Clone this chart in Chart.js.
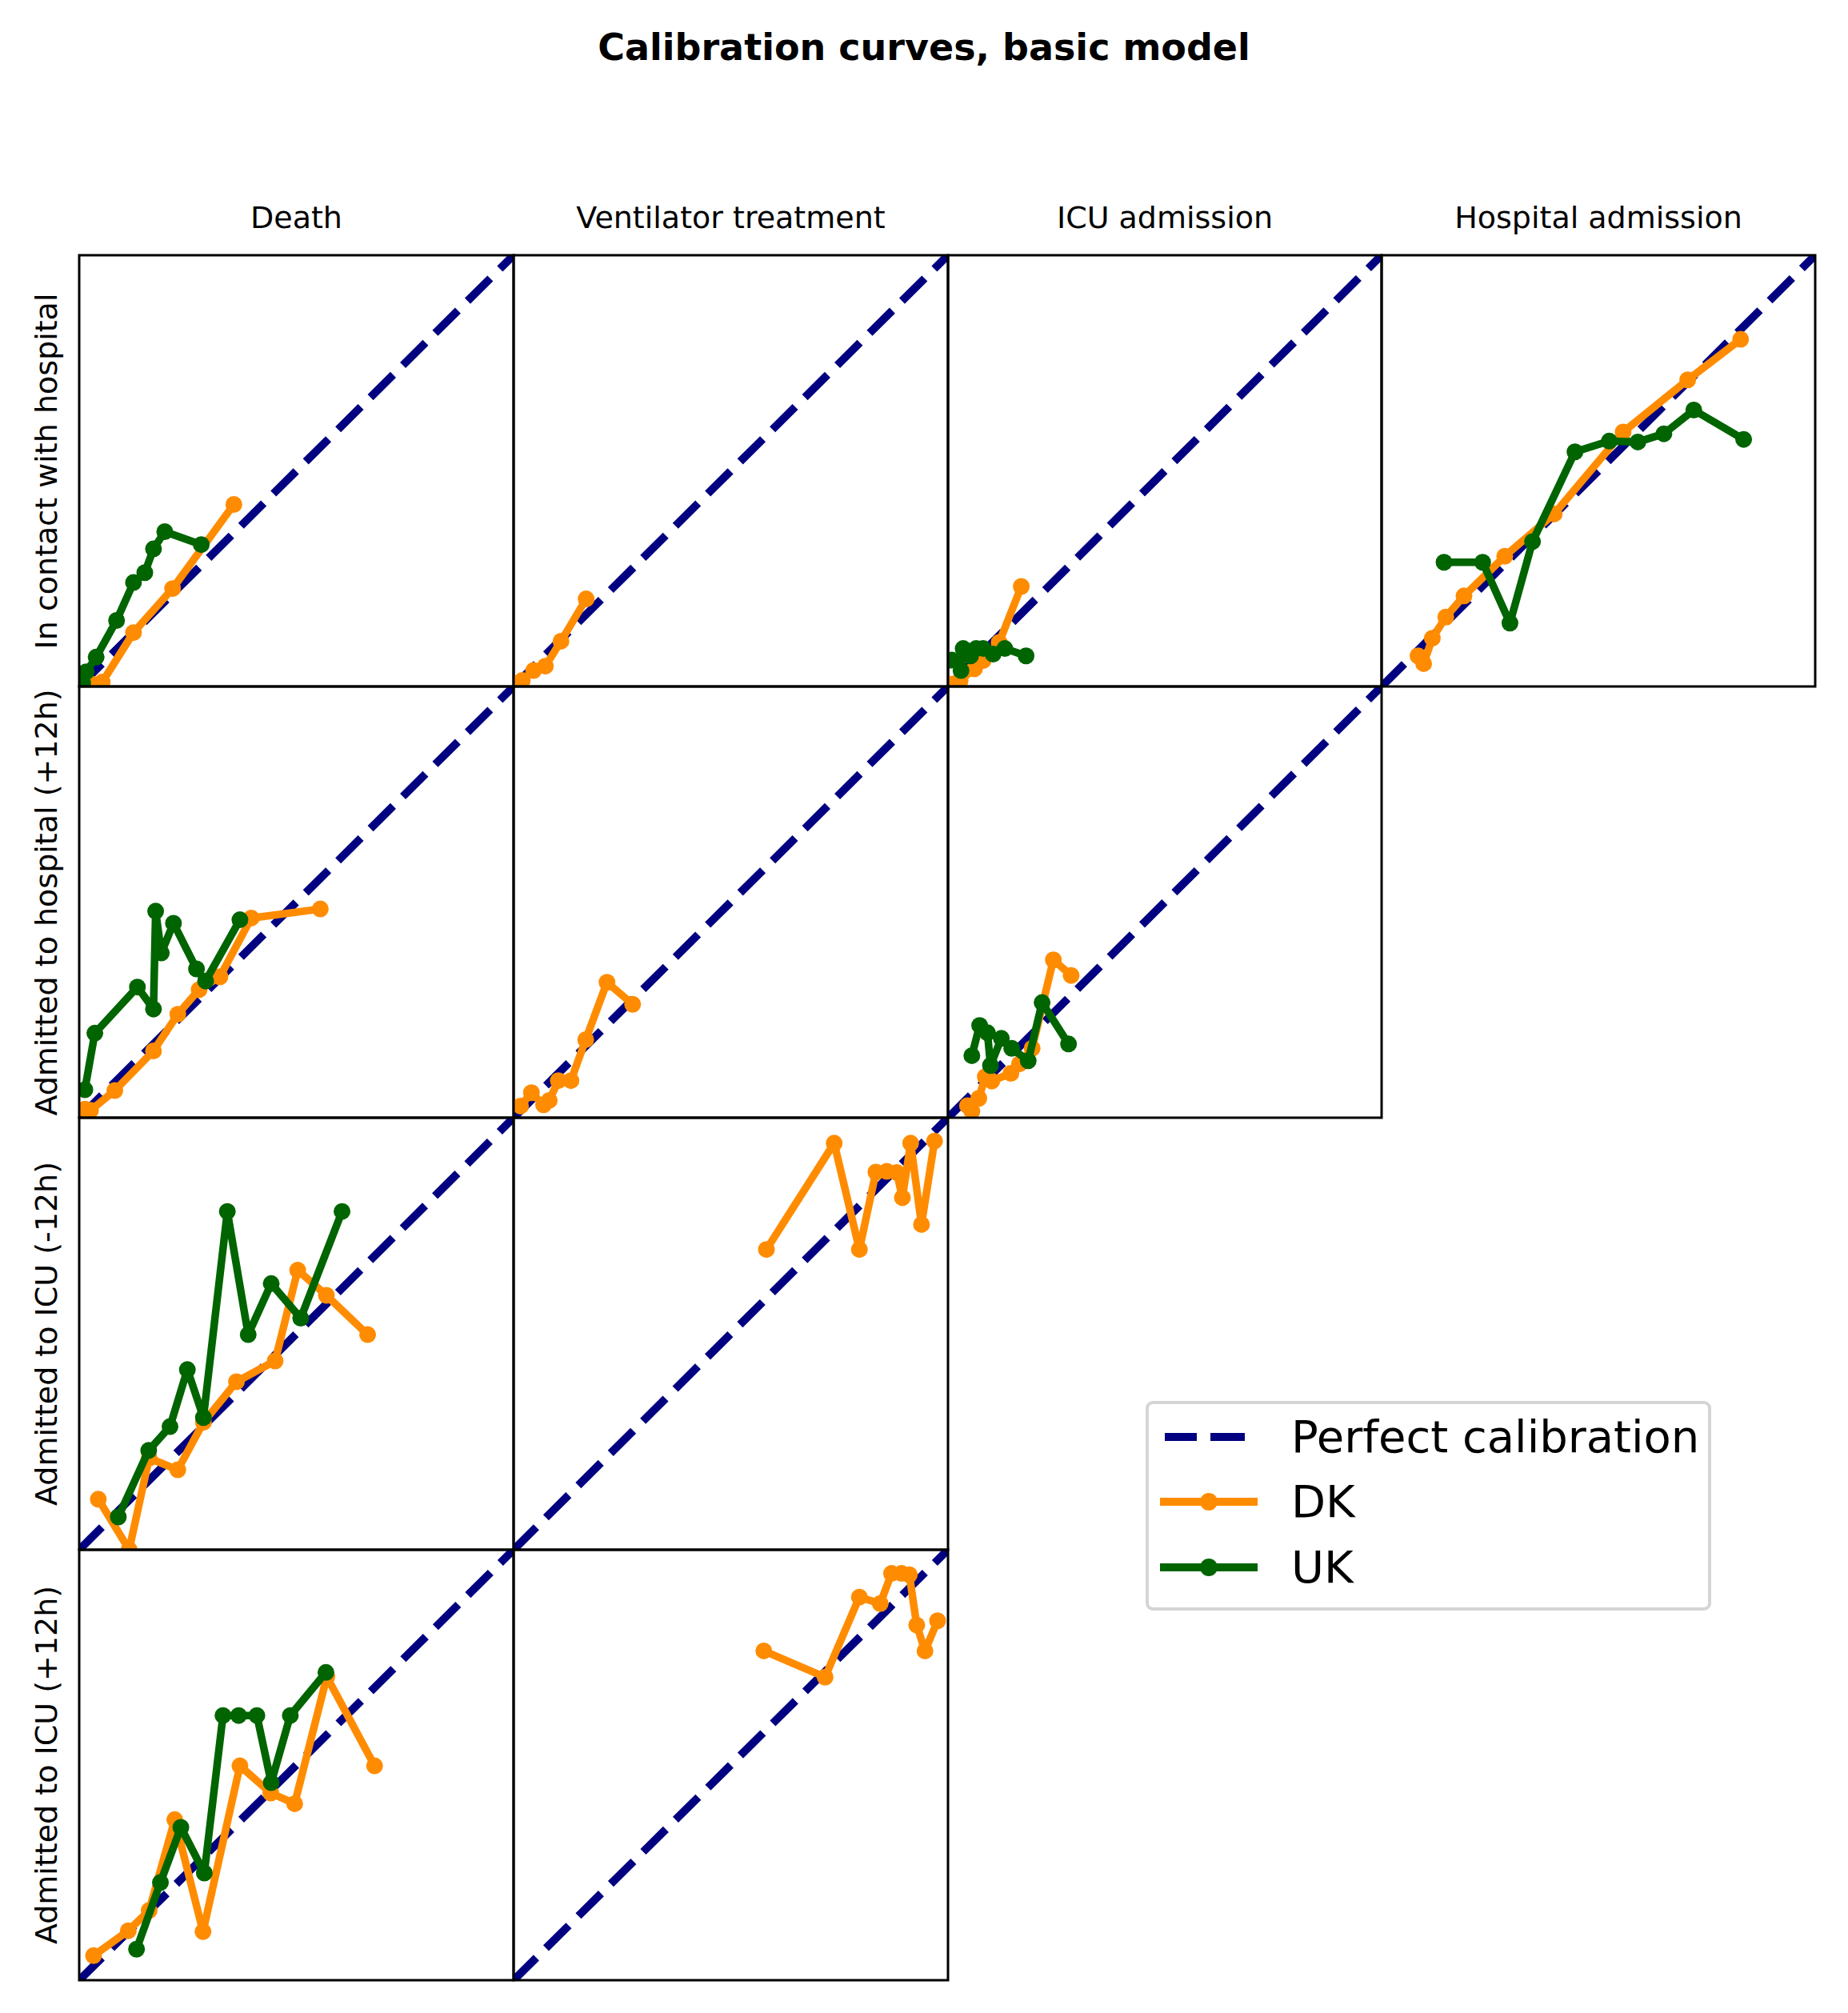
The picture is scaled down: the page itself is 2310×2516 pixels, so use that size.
<!DOCTYPE html>
<html>
<head>
<meta charset="utf-8">
<script src="https://cdn.jsdelivr.net/npm/chart.js@4.4.1/dist/chart.umd.min.js"></script>
<style>
  html, body { margin:0; padding:0; background:#fff; }
  body { width:2310px; height:2516px; position:relative; overflow:hidden; font-family:"DejaVu Sans", sans-serif; color:#000; }
  .txt { position:absolute; white-space:nowrap; transform:translate(-50%,-50%); line-height:1.2; }
  canvas { position:absolute; }
  .legend { position:absolute; left:1432px; top:1751px; width:699px; height:254px; border:4px solid #d5d5d5; border-radius:9px; background:#fff; }
  .lg { position:absolute; }
</style>
</head>
<body>
<script>
// ---------- labels ----------
const title = "Calibration curves, basic model";
const colTitles = ["Death", "Ventilator treatment", "ICU admission", "Hospital admission"];
const rowTitles = ["In contact with hospital", "Admitted to hospital (+12h)", "Admitted to ICU (-12h)", "Admitted to ICU (+12h)"];
const legendLabels = ["Perfect calibration", "DK", "UK"];

// ---------- data: [mean predicted, observed fraction] ----------
const perfect = [[0, 0], [1, 1]];

const dk_contact_death = [[0.03,0.005],[0.053,0.01],[0.125,0.125],[0.215,0.227],[0.356,0.422]];
const uk_contact_death = [[0.008,0.008],[0.016,0.034],[0.039,0.068],[0.086,0.153],[0.125,0.241],[0.151,0.264],[0.171,0.319],[0.197,0.359],[0.281,0.329]];

const dk_contact_vent = [[0.01,0.007],[0.02,0.014],[0.046,0.037],[0.073,0.047],[0.109,0.105],[0.167,0.203]];

const dk_contact_icu = [[0.01,0.005],[0.028,0.014],[0.061,0.041],[0.081,0.06],[0.118,0.102],[0.169,0.232]];
const uk_contact_icu = [[0.009,0.061],[0.03,0.037],[0.035,0.088],[0.052,0.071],[0.065,0.088],[0.081,0.088],[0.104,0.075],[0.131,0.088],[0.18,0.071]];

const dk_contact_hosp = [[0.084,0.071],[0.097,0.053],[0.117,0.112],[0.148,0.161],[0.19,0.21],[0.284,0.302],[0.398,0.4],[0.557,0.59],[0.706,0.711],[0.828,0.805]];
const uk_contact_hosp = [[0.144,0.288],[0.233,0.288],[0.296,0.147],[0.348,0.336],[0.446,0.544],[0.525,0.569],[0.591,0.567],[0.651,0.586],[0.72,0.641],[0.835,0.573]];

const dk_hosp12_death = [[0.013,0.02],[0.026,0.017],[0.082,0.063],[0.171,0.155],[0.227,0.24],[0.276,0.297],[0.324,0.327],[0.396,0.463],[0.555,0.484]];
const uk_hosp12_death = [[0.013,0.065],[0.036,0.196],[0.134,0.303],[0.171,0.252],[0.176,0.479],[0.189,0.382],[0.217,0.451],[0.27,0.345],[0.291,0.317],[0.37,0.459]];

const dk_hosp12_vent = [[0.016,0.027],[0.041,0.058],[0.069,0.03],[0.082,0.04],[0.103,0.086],[0.132,0.086],[0.166,0.181],[0.215,0.314],[0.274,0.263]];

const dk_hosp12_icu = [[0.045,0.028],[0.055,0.015],[0.071,0.045],[0.086,0.095],[0.101,0.085],[0.145,0.103],[0.165,0.125],[0.194,0.161],[0.243,0.366],[0.284,0.33]];
const uk_hosp12_icu = [[0.055,0.144],[0.073,0.214],[0.091,0.197],[0.098,0.121],[0.123,0.184],[0.147,0.161],[0.185,0.132],[0.217,0.267],[0.278,0.171]];

const dk_icum12_death = [[0.044,0.117],[0.115,0.0],[0.161,0.212],[0.227,0.185],[0.286,0.295],[0.362,0.389],[0.451,0.437],[0.503,0.647],[0.569,0.589],[0.664,0.498]];
const uk_icum12_death = [[0.09,0.076],[0.16,0.23],[0.209,0.285],[0.249,0.417],[0.286,0.306],[0.341,0.783],[0.389,0.498],[0.442,0.616],[0.51,0.536],[0.605,0.783]];

const dk_icum12_vent = [[0.582,0.695],[0.738,0.941],[0.796,0.695],[0.834,0.874],[0.859,0.876],[0.882,0.873],[0.895,0.815],[0.914,0.941],[0.939,0.753],[0.969,0.946]];

const dk_icup12_death = [[0.033,0.057],[0.113,0.115],[0.161,0.162],[0.22,0.373],[0.285,0.113],[0.37,0.498],[0.441,0.435],[0.496,0.41],[0.57,0.705],[0.68,0.498]];
const uk_icup12_death = [[0.132,0.072],[0.187,0.227],[0.234,0.355],[0.288,0.249],[0.331,0.615],[0.367,0.615],[0.409,0.615],[0.442,0.459],[0.486,0.615],[0.568,0.715]];

const dk_icup12_vent = [[0.576,0.765],[0.717,0.704],[0.796,0.89],[0.844,0.875],[0.87,0.945],[0.893,0.945],[0.911,0.942],[0.928,0.825],[0.947,0.765],[0.976,0.835]];

// panel grid: [row, col, DK series, UK series]
const panelList = [
  [0, 0, dk_contact_death, uk_contact_death],
  [0, 1, dk_contact_vent, null],
  [0, 2, dk_contact_icu, uk_contact_icu],
  [0, 3, dk_contact_hosp, uk_contact_hosp],
  [1, 0, dk_hosp12_death, uk_hosp12_death],
  [1, 1, dk_hosp12_vent, null],
  [1, 2, dk_hosp12_icu, uk_hosp12_icu],
  [2, 0, dk_icum12_death, uk_icum12_death],
  [2, 1, dk_icum12_vent, null],
  [3, 0, dk_icup12_death, uk_icup12_death],
  [3, 1, dk_icup12_vent, null]
];

// ---------- layout ----------
const colEdges = [99, 642, 1185, 1727, 2269];
const rowEdges = [319, 858, 1397, 1937, 2475];
const PAD = 6;
const NAVY = "#000080", ORANGE = "#ff8c00", GREEN = "#006400";

function addText(str, x, y, css, rot) {
  const d = document.createElement("div");
  d.className = "txt";
  d.textContent = str;
  d.style.left = x + "px";
  d.style.top = y + "px";
  Object.assign(d.style, css || {});
  if (rot) d.style.transform = "translate(-50%,-50%) rotate(-90deg)";
  document.body.appendChild(d);
}

addText(title, 1155, 60, { fontSize: "46px", fontWeight: "bold" });
colTitles.forEach((t, i) => addText(t, (colEdges[i] + colEdges[i + 1]) / 2, 273, { fontSize: "38px" }));
rowTitles.forEach((t, i) => addText(t, 59, (rowEdges[i] + rowEdges[i + 1]) / 2, { fontSize: "38px" }, true));

const framePlugin = {
  id: "frame",
  afterDraw(chart) {
    const a = chart.chartArea, c = chart.ctx;
    c.save();
    c.strokeStyle = "#000";
    c.lineWidth = 3;
    c.strokeRect(a.left, a.top, a.right - a.left, a.bottom - a.top);
    c.restore();
  }
};

const toXY = arr => arr.map(p => ({ x: p[0], y: p[1] }));

function series(arr, color, ord) {
  return {
    data: toXY(arr), borderColor: color, backgroundColor: color,
    borderWidth: 9.5, pointRadius: 10.5, pointBorderWidth: 0, pointBackgroundColor: color,
    pointHoverRadius: 10.5, tension: 0, clip: 0, order: ord, borderJoinStyle: "round", borderCapStyle: "butt"
  };
}

panelList.forEach(([r, c, dk, uk]) => {
  const x0 = colEdges[c], x1 = colEdges[c + 1], y0 = rowEdges[r], y1 = rowEdges[r + 1];
  const cv = document.createElement("canvas");
  cv.width = (x1 - x0) + 2 * PAD;
  cv.height = (y1 - y0) + 2 * PAD;
  cv.style.left = (x0 - PAD) + "px";
  cv.style.top = (y0 - PAD) + "px";
  cv.style.width = cv.width + "px";
  cv.style.height = cv.height + "px";
  document.body.appendChild(cv);
  const ds = [{
    data: toXY(perfect), borderColor: NAVY, borderWidth: 10, borderDash: [40, 17],
    pointRadius: 0, tension: 0, clip: 0, order: 3, borderCapStyle: "butt"
  }];
  ds.push(series(dk, ORANGE, 2));
  if (uk) ds.push(series(uk, GREEN, 1));
  new Chart(cv, {
    type: "line",
    data: { datasets: ds },
    options: {
      responsive: false, animation: false, devicePixelRatio: 1, events: [],
      layout: { padding: PAD, autoPadding: false },
      plugins: { legend: { display: false }, tooltip: { enabled: false } },
      scales: {
        x: { type: "linear", min: 0, max: 1, display: false },
        y: { type: "linear", min: 0, max: 1, display: false }
      }
    },
    plugins: [framePlugin]
  });
});

// ---------- legend ----------
const lg = document.createElement("div");
lg.className = "legend";
document.body.appendChild(lg);
const L0 = 1432 + 4, T0 = 1751 + 4; // inner origin
const rowsY = [1796, 1877, 1959];
function box(x, y, w, h, color, radius) {
  const d = document.createElement("div");
  d.className = "lg";
  d.style.left = (x - L0) + "px"; d.style.top = (y - T0) + "px";
  d.style.width = w + "px"; d.style.height = h + "px";
  d.style.background = color;
  if (radius) d.style.borderRadius = radius;
  lg.appendChild(d);
}
box(1456, rowsY[0] - 5, 40, 10, NAVY);
box(1513, rowsY[0] - 5, 43, 10, NAVY);
box(1450, rowsY[1] - 5, 122, 10, ORANGE);
box(1500, rowsY[1] - 11, 22, 22, ORANGE, "50%");
box(1450, rowsY[2] - 5, 122, 10, GREEN);
box(1500, rowsY[2] - 11, 22, 22, GREEN, "50%");
legendLabels.forEach((t, i) => {
  const d = document.createElement("div");
  d.className = "lg";
  d.textContent = t;
  d.style.left = (1614 - L0) + "px";
  d.style.top = (rowsY[i] - T0) + "px";
  d.style.fontSize = "56px";
  d.style.lineHeight = "70px";
  d.style.transform = "translateY(-50%)";
  d.style.whiteSpace = "nowrap";
  lg.appendChild(d);
});
</script>
</body>
</html>
